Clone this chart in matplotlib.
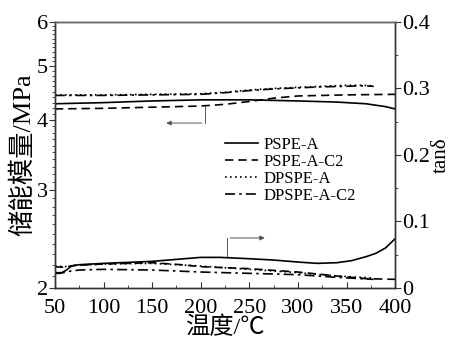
import numpy as np
import matplotlib
matplotlib.use("Agg")
import matplotlib.pyplot as plt
from matplotlib.ticker import FixedLocator, NullFormatter, MultipleLocator

plt.rcParams['font.family'] = ['Liberation Serif', 'Noto Sans CJK SC']
plt.rcParams['mathtext.fontset'] = 'stix'

# ---- storage modulus (MPa, left log axis) ----
T_PA = [50, 100, 150, 200, 250, 300, 340, 370, 390, 400]
E_PA = [4.28, 4.30, 4.33, 4.35, 4.35, 4.33, 4.31, 4.28, 4.23, 4.19]
T_PAC = [50, 100, 150, 200, 225, 250, 275, 300, 350, 400]
E_PAC = [4.19, 4.20, 4.22, 4.24, 4.27, 4.32, 4.38, 4.42, 4.44, 4.45]
T_DA = [50, 100, 150, 200, 225, 250, 275, 300, 325, 350, 365, 378]
E_DA = [4.44, 4.44, 4.45, 4.46, 4.49, 4.53, 4.56, 4.58, 4.60, 4.62, 4.62, 4.61]
T_DAC = [50, 100, 150, 200, 225, 250, 275, 300, 325, 350, 365, 378]
E_DAC = [4.43, 4.43, 4.44, 4.45, 4.48, 4.52, 4.55, 4.57, 4.59, 4.60, 4.61, 4.60]

# ---- tan delta (right axis) ----
Tt_PA = [50, 57, 62, 67, 75, 100, 150, 200, 220, 250, 275, 300, 320, 340, 355, 370, 380, 390, 400]
D_PA = [0.023, 0.023, 0.027, 0.033, 0.035, 0.037, 0.040, 0.046, 0.046, 0.044, 0.042,
        0.039, 0.037, 0.038, 0.041, 0.047, 0.052, 0.060, 0.074]
Tt_PAC = [50, 60, 70, 100, 150, 180, 200, 250, 300, 340, 370, 400]
D_PAC = [0.032, 0.031, 0.034, 0.036, 0.038, 0.035, 0.032, 0.029, 0.024, 0.018, 0.014, 0.013]
Tt_DA = [50, 60, 70, 100, 150, 200, 250, 300, 340, 378]
D_DA = [0.033, 0.032, 0.034, 0.036, 0.037, 0.033, 0.028, 0.023, 0.018, 0.015]
Tt_DAC = [50, 55, 65, 75, 100, 150, 200, 250, 300, 340, 378]
D_DAC = [0.022, 0.022, 0.025, 0.027, 0.028, 0.027, 0.024, 0.022, 0.020, 0.016, 0.013]

labels = ['PSPE-A', 'PSPE-A-C2', 'DPSPE-A', 'DPSPE-A-C2']
xticks = [50, 100, 150, 200, 250, 300, 350, 400]
yticks_left = [2, 3, 4, 5, 6]
yticks_right = [0, 0.1, 0.2, 0.3, 0.4]

styles = [dict(linestyle='-'),
          dict(linestyle=(0, (5, 3))),
          dict(linestyle=(0, (1, 2))),
          dict(linestyle=(0, (6, 2.5, 1.5, 2.5)))]

fig = plt.figure(figsize=(4.5, 3.38), dpi=100)
ax = fig.add_axes([0.122, 0.148, 0.756, 0.787])
ax2 = ax.twinx()

lw = 1.2
handles = []
for (t, e), st, lab in zip([(T_PA, E_PA), (T_PAC, E_PAC), (T_DA, E_DA), (T_DAC, E_DAC)], styles, labels):
    h, = ax.plot(t, e, color='black', lw=lw, label=lab, **st)
    handles.append(h)
for (t, d), st in zip([(Tt_PA, D_PA), (Tt_PAC, D_PAC), (Tt_DA, D_DA), (Tt_DAC, D_DAC)], styles):
    ax2.plot(t, d, color='black', lw=lw, **st)

ax.set_yscale('log')
ax.set_xlim(50, 400)
ax.set_ylim(2, 6)
ax.yaxis.set_major_locator(FixedLocator(yticks_left))
ax.yaxis.set_minor_locator(FixedLocator(np.round(np.arange(2.0, 6.0, 0.1), 2)))
ax.yaxis.set_minor_formatter(NullFormatter())
ax.set_yticklabels([str(v) for v in yticks_left])
ax.set_xticks(xticks)
ax.xaxis.set_minor_locator(MultipleLocator(25))

ax2.set_ylim(0, 0.4)
ax2.set_yticks(yticks_right)
ax2.set_yticklabels(['0', '0.1', '0.2', '0.3', '0.4'])
ax2.yaxis.set_minor_locator(MultipleLocator(0.05))

spc = '#333333'
for a in (ax, ax2):
    for s in a.spines.values():
        s.set_color(spc)
        s.set_linewidth(1.0)
ax2.spines['top'].set_color('#666666')

ax.tick_params(axis='x', which='both', direction='in', top=False, colors=spc, labelcolor='black', labelsize=16, pad=8)
ax.tick_params(axis='x', which='major', length=4)
ax.tick_params(axis='x', which='minor', length=2.5)
ax.tick_params(axis='y', which='both', direction='out', colors=spc, labelcolor='black', labelsize=16, pad=1)
ax.tick_params(axis='y', which='major', length=4)
ax.tick_params(axis='y', which='minor', length=2.5)
ax2.tick_params(axis='y', which='both', direction='out', colors=spc, labelcolor='black', labelsize=16, pad=1)
ax2.tick_params(axis='y', which='major', length=4)
ax2.tick_params(axis='y', which='minor', length=2.5)

ax.set_xlabel('温度/℃', fontsize=17.5, labelpad=-1)
ax.set_ylabel('储能模量/MPa', fontsize=19, labelpad=1)
ax2.set_ylabel('tanδ', fontsize=15, labelpad=1)

# annotation arrows
ax.annotate('', xy=(0.319, 0.62), xytext=(0.44, 0.62), xycoords='axes fraction',
            arrowprops=dict(arrowstyle='-|>', color='#555555', lw=0.7, mutation_scale=7))
ax.plot([0.44, 0.44], [0.62, 0.684], transform=ax.transAxes, color='#555555', lw=0.7)
ax.annotate('', xy=(0.625, 0.188), xytext=(0.507, 0.188), xycoords='axes fraction',
            arrowprops=dict(arrowstyle='-|>', color='#555555', lw=0.7, mutation_scale=7))
ax.plot([0.507, 0.507], [0.117, 0.188], transform=ax.transAxes, color='#555555', lw=0.7)

leg = ax.legend(handles=handles, loc='upper left', bbox_to_anchor=(0.50, 0.567),
                frameon=False, fontsize=12, borderaxespad=0, borderpad=0,
                handlelength=2.0, handletextpad=0.3, labelspacing=0.05)

fig.savefig('out.png', dpi=100)
